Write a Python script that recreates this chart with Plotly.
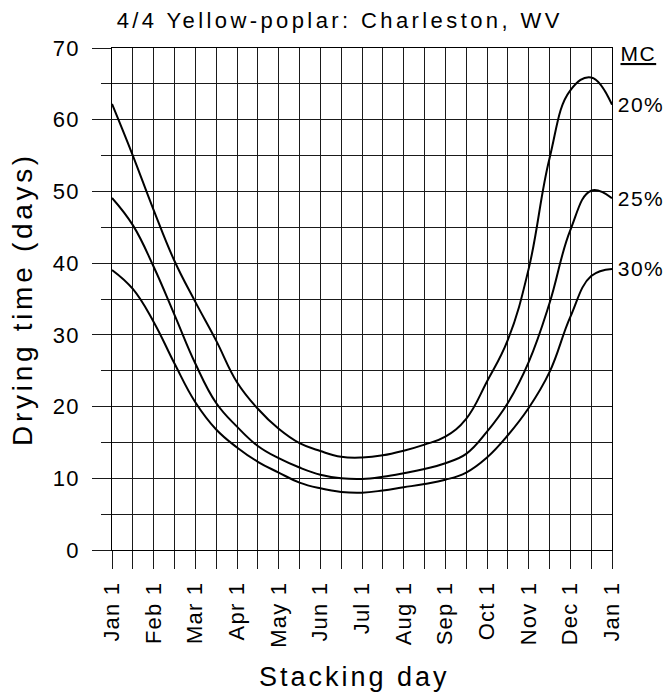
import plotly.graph_objects as go

# Stacking day positions (in months from Jan 1), read at half-month steps
stack_month = [0, 0.5, 1, 1.5, 2, 2.5, 3, 3.5, 4, 4.5, 5, 5.5, 6,
               6.5, 7, 7.5, 8, 8.5, 9, 9.5, 10, 10.5, 11, 11.5, 12]

# Drying time (days) for each final moisture content
mc20 = [62.2, 55.0, 47.4, 40.3, 34.6, 29.2, 23.4, 19.7, 16.9, 14.9, 13.8, 13.0, 12.9,
        13.2, 13.85, 14.7, 15.8, 18.3, 23.5, 29.3, 39.2, 54.6, 64.1, 65.9, 62.1]
mc25 = [49.1, 45.3, 39.5, 32.8, 26.0, 20.5, 17.2, 14.5, 12.8, 11.5, 10.5, 10.0, 9.9,
        10.2, 10.7, 11.3, 12.1, 13.4, 16.5, 20.5, 26.2, 34.4, 44.6, 50.1, 49.05]
mc30 = [39.05, 36.4, 31.8, 26.0, 20.6, 16.8, 14.3, 12.3, 10.8, 9.4, 8.6, 8.1, 8.0,
        8.3, 8.75, 9.2, 9.8, 10.8, 12.9, 16.0, 19.8, 24.8, 32.5, 38.2, 39.2]

series = [("20%", mc20), ("25%", mc25), ("30%", mc30)]

month_ticks = [0, 1, 2, 3, 4, 5, 6, 7, 8, 9, 10, 11, 12]
month_labels = ["Jan 1", "Feb 1", "Mar 1", "Apr 1", "May 1", "Jun 1", "Jul 1",
                "Aug 1", "Sep 1", "Oct 1", "Nov 1", "Dec 1", "Jan 1"]

FONT = "Liberation Sans, Arial, sans-serif"
GRID = "#1a1a1a"

fig = go.Figure()
for name, vals in series:
    fig.add_trace(go.Scatter(x=stack_month, y=vals, mode="lines", name=name,
                             line=dict(color="black", width=2, shape="spline", smoothing=1.2),
                             showlegend=False, hoverinfo="skip"))

for name, vals in series:
    fig.add_annotation(x=1.0, xref="paper", y=vals[-1], yref="y", text=name,
                       showarrow=False, xanchor="left", yanchor="middle", xshift=6,
                       font=dict(family=FONT, size=21, color="black"))
fig.add_annotation(x=1.0, xref="paper", y=69.2, yref="y", text="<u>MC</u>",
                   showarrow=False, xanchor="left", yanchor="middle", xshift=8,
                   font=dict(family=FONT, size=21, color="black"))

# x-axis title placed as annotation for exact position
fig.add_annotation(x=0.485, xref="paper", y=-0.253, yref="paper", text="Stacking day",
                   showarrow=False, xanchor="center", yanchor="middle",
                   font=dict(family=FONT, size=27, color="black"))

fig.update_layout(
    width=670, height=698,
    margin=dict(l=112, r=58, t=48, b=148),
    paper_bgcolor="white", plot_bgcolor="white",
    title=dict(text="4/4 Yellow-poplar: Charleston, WV", x=0.507, xref="container",
               y=0.971, yref="container", xanchor="center", yanchor="middle",
               font=dict(family=FONT, size=22, color="black")),
    font=dict(family=FONT, color="black"),
)

fig.update_xaxes(
    range=[0, 12], tickvals=month_ticks, ticktext=month_labels, tickangle=-90,
    ticks="outside", ticklen=18, tickcolor=GRID, tickwidth=1,
    showgrid=True, gridcolor=GRID, gridwidth=1,
    minor=dict(dtick=0.5, tick0=0, ticks="outside", ticklen=18, tickcolor=GRID,
               showgrid=True, gridcolor=GRID, gridwidth=1),
    showline=True, linecolor="black", linewidth=1, mirror=True,
    zeroline=False, ticklabelstandoff=4,
    tickfont=dict(family=FONT, size=22, color="black"),
)
fig.update_yaxes(
    range=[0, 70], tick0=0, dtick=10,
    ticks="outside", ticklen=19, tickcolor=GRID, tickwidth=1,
    showgrid=True, gridcolor=GRID, gridwidth=1,
    minor=dict(dtick=5, tick0=0, ticks="outside", ticklen=10, tickcolor=GRID,
               showgrid=True, gridcolor=GRID, gridwidth=1),
    showline=True, linecolor="black", linewidth=1, mirror=True,
    zeroline=False, ticklabelstandoff=8,
    tickfont=dict(family=FONT, size=22, color="black"),
    title=dict(text="Drying time (days)", font=dict(family=FONT, size=28, color="black"), standoff=14),
)

css_js = """
var s=document.createElement('style');
s.innerHTML='body{margin:0;padding:0}.gtitle{letter-spacing:3.4px}.ytitle{letter-spacing:3.7px}'+
 '.xtick text,.ytick text{letter-spacing:1.2px}.annotation-text{letter-spacing:1.5px}';
document.head.appendChild(s);
var a=document.querySelectorAll('.annotation-text');
a.forEach(function(t){ if(t.textContent.indexOf('Stacking')>=0){ t.style.letterSpacing='3px'; } });
"""
fig.write_html("out.html", post_script=css_js, config={"displayModeBar": False})
